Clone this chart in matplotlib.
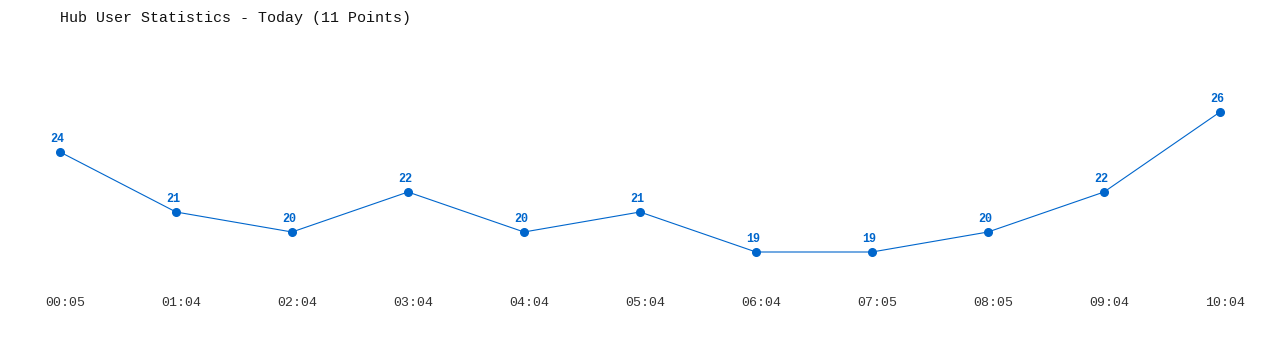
import matplotlib
matplotlib.use("Agg")
import matplotlib.pyplot as plt

times = ["00:05", "01:04", "02:04", "03:04", "04:04", "05:04", "06:04", "07:05", "08:05", "09:04", "10:04"]
users = [24, 21, 20, 22, 20, 21, 19, 19, 20, 22, 26]
title = "Hub User Statistics - Today (11 Points)"

W, H = 1280, 350
fig = plt.figure(figsize=(W / 100, H / 100), dpi=100)
ax = fig.add_axes([0, 0, 1, 1])
ax.set_axis_off()

x0, dx = 60, 116      # pixel position of first point, spacing
y26, dy = 112, 20     # pixel y of value 26, pixels per unit
ax.set_xlim(-x0 / dx, (W - x0) / dx)
ax.set_ylim(26 - (H - y26) / dy, 26 + y26 / dy)

color = "#0066cc"
xs = list(range(len(users)))
ax.plot(xs, users, color=color, lw=0.8, marker="o", ms=5.5, mec=color, mfc=color)

mono = ["Liberation Mono", "DejaVu Sans Mono"]
for x, v in zip(xs, users):
    ax.annotate(str(v), (x, v), xytext=(-3, 7), textcoords="offset pixels",
                ha="center", va="bottom", fontsize=8.5, fontweight="bold",
                color=color, family=mono)

y_tick = 26 - (303 - y26) / dy
for x, t in zip(xs, times):
    ax.annotate(t, (x, y_tick), xytext=(5, 0), textcoords="offset pixels",
                ha="center", va="center", fontsize=9.5,
                color="#333333", family=mono)

fig.text(60 / W, 1 - 18 / H, title, ha="left", va="center", fontsize=10.8,
         color="#111111", family=mono)

fig.savefig("out.png", dpi=100, facecolor="white")
